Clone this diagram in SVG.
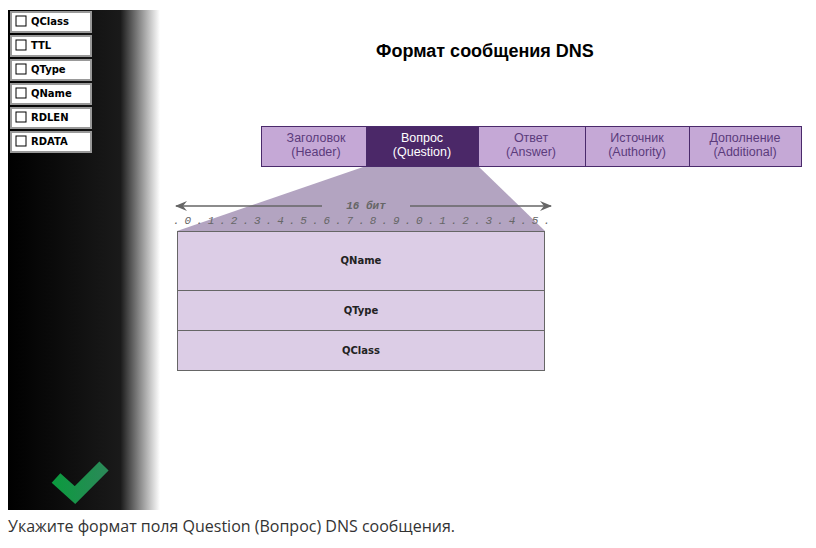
<svg xmlns="http://www.w3.org/2000/svg" width="816" height="548" viewBox="0 0 816 548">
<defs>
<linearGradient id="panelGrad" x1="8" y1="0" x2="160" y2="0" gradientUnits="userSpaceOnUse">
<stop offset="0" stop-color="#000"/>
<stop offset="0.74" stop-color="#1a1a1a"/>
<stop offset="1" stop-color="#fff"/>
</linearGradient>
<linearGradient id="checkGrad" x1="53" y1="0" x2="105" y2="0" gradientUnits="userSpaceOnUse">
<stop offset="0" stop-color="#0b9a3e"/>
<stop offset="1" stop-color="#2a8a58"/>
</linearGradient>
<marker id="ah" markerWidth="12" markerHeight="10" refX="11" refY="5" orient="auto-start-reverse" markerUnits="userSpaceOnUse">
<path d="M0,0 L12,5 L0,10 L4,5 Z" fill="#666"/>
</marker>
</defs>
<style>
.opt rect.o{fill:#fff;stroke:#999;stroke-width:2}
.opt rect.c{fill:#fff;stroke:#000;stroke-width:1}
.opt text{font-family:"DejaVu Sans",sans-serif;font-weight:bold;font-size:10px;fill:#000}
.seg{stroke:#4a2a6b;stroke-width:1}
.seg.l{fill:#c5a8d6}
.seg.d{fill:#4b2868}
.st{font-family:"Liberation Sans",Arial,sans-serif;font-size:12.5px;fill:#5b3b7c;text-anchor:middle}
.st.w{fill:#fff}
.row{fill:#dccde6;stroke:#666;stroke-width:1}
.rt{font-family:"DejaVu Sans",sans-serif;font-weight:bold;font-size:10px;fill:#222;text-anchor:middle}
.mono{font-family:"Liberation Mono",monospace;font-style:italic;font-size:11px;fill:#666}
</style>
<rect x="0" y="0" width="816" height="548" fill="#fff"/>
<g id="panel">
<rect x="8" y="10" width="152" height="500" fill="url(#panelGrad)"/>
</g>
<g id="options" class="opt">
<g id="opt-qclass"><rect class="o" x="11" y="12" width="80" height="20"/><rect class="c" x="16" y="16" width="10" height="10"/><text x="31" y="25">QClass</text></g>
<g id="opt-ttl"><rect class="o" x="11" y="36" width="80" height="20"/><rect class="c" x="16" y="40" width="10" height="10"/><text x="31" y="49">TTL</text></g>
<g id="opt-qtype"><rect class="o" x="11" y="60" width="80" height="20"/><rect class="c" x="16" y="64" width="10" height="10"/><text x="31" y="73">QType</text></g>
<g id="opt-qname"><rect class="o" x="11" y="84" width="80" height="20"/><rect class="c" x="16" y="88" width="10" height="10"/><text x="31" y="97">QName</text></g>
<g id="opt-rdlen"><rect class="o" x="11" y="108" width="80" height="20"/><rect class="c" x="16" y="112" width="10" height="10"/><text x="31" y="121">RDLEN</text></g>
<g id="opt-rdata"><rect class="o" x="11" y="132" width="80" height="20"/><rect class="c" x="16" y="136" width="10" height="10"/><text x="31" y="145">RDATA</text></g>
</g>
<g id="check">
<polyline points="56,478 75,495 104,466" fill="none" stroke="url(#checkGrad)" stroke-width="13" stroke-linecap="butt" stroke-linejoin="miter"/>
</g>
<text id="title" x="485" y="57" font-family="Liberation Sans, Arial, sans-serif" font-weight="bold" font-size="18" text-anchor="middle" fill="#000">Формат сообщения DNS</text>
<g id="zoom-shape">
<polygon points="366,166 478,166 545,231 177,231" fill="#b3a4c1"/>
</g>
<g id="message">
<g id="seg-header"><rect class="seg l" x="261.5" y="126.5" width="105" height="40"/><text class="st" x="316" y="142">Заголовок</text><text class="st" x="316" y="156">(Header)</text></g>
<g id="seg-question"><rect class="seg d" x="366.5" y="126.5" width="112" height="40"/><text class="st w" x="422" y="142">Вопрос</text><text class="st w" x="422" y="156">(Question)</text></g>
<g id="seg-answer"><rect class="seg l" x="478.5" y="126.5" width="107" height="40"/><text class="st" x="531" y="142">Ответ</text><text class="st" x="531" y="156">(Answer)</text></g>
<g id="seg-authority"><rect class="seg l" x="585.5" y="126.5" width="104" height="40"/><text class="st" x="637" y="142">Источник</text><text class="st" x="637" y="156">(Authority)</text></g>
<g id="seg-additional"><rect class="seg l" x="689.5" y="126.5" width="112" height="40"/><text class="st" x="745" y="142">Дополнение</text><text class="st" x="745" y="156">(Additional)</text></g>
</g>
<g id="connectors">
<line x1="322" y1="206" x2="176" y2="206" stroke="#666" stroke-width="1.5" marker-end="url(#ah)"/>
<line x1="410" y1="206" x2="551" y2="206" stroke="#666" stroke-width="1.5" marker-end="url(#ah)"/>
</g>
<text class="mono" x="366" y="209" text-anchor="middle" font-weight="bold">16 бит</text>
<text class="mono" x="173" y="224" textLength="377" lengthAdjust="spacing">. 0 . 1 . 2 . 3 . 4 . 5 . 6 . 7 . 8 . 9 . 0 . 1 . 2 . 3 . 4 . 5 .</text>
<g id="row-qname"><rect class="row" x="177.5" y="231.5" width="367" height="59"/><text class="rt" x="361" y="264">QName</text></g>
<g id="row-qtype"><rect class="row" x="177.5" y="290.5" width="367" height="40"/><text class="rt" x="361" y="314">QType</text></g>
<g id="row-qclass"><rect class="row" x="177.5" y="330.5" width="367" height="40"/><text class="rt" x="361" y="354">QClass</text></g>
<text id="caption" x="8" y="532" font-family="Open Sans, sans-serif" font-size="16" fill="#333">Укажите формат поля Question (Вопрос) DNS сообщения.</text>
</svg>
